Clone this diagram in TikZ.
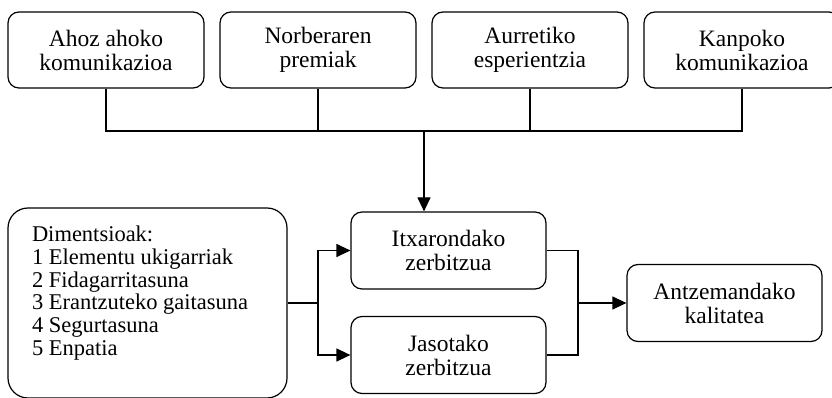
\documentclass[tikz,border=0pt]{standalone}
\usepackage{fontspec}
\setmainfont{Liberation Serif}
\usetikzlibrary{arrows.meta,positioning}

\begin{document}
\begin{tikzpicture}[
            x = 1pt, y = -1pt, % pixel grid, y going down
            > = {Triangle[length=14pt,width=13pt]}, % arrow head style
            node distance = 212pt, % distance between top boxes
            line width = 1.2pt, % line style
            box/.style = {draw, rounded corners=11pt, minimum width=196pt,
                minimum height=76pt, align=center, inner sep=2pt,
                font=\fontsize{23.5}{24}\selectfont},
            dimbox/.style = {draw, rounded corners=20pt, minimum width=279pt,
                minimum height=190pt, inner sep=0pt,
                font=\fontsize{22.5}{22.7}\selectfont}
        ]

	\useasboundingbox (0,0) rectangle (832,398);

	\node[box] (A) at (106,50) {Ahoz ahoko\\komunikazioa};
	\node[box] (B) [right of=A] {Norberaren\\premiak};
	\node[box] (C) [right of=B] {Aurretiko\\esperientzia};
	\node[box] (D) [right of=C] {Kanpoko\\komunikazioa};

	\node[box, minimum width=195pt, minimum height=77pt] (itx) at (448.5,250.5) {Itxarondako\\zerbitzua};
	\node[box, minimum width=195pt, minimum height=77pt] (jas) at (448.5,355) {Jasotako\\zerbitzua};
	\node[box, minimum width=195pt, minimum height=77pt] (ant) at (724.5,303) {Antzemandako\\kalitatea};
	\node[dimbox] (dim) at (147.5,303) {\parbox[c][190pt][t]{231pt}{\vspace*{18pt}%
		Dimentsioak:\\
		1 Elementu ukigarriak\\
		2 Fidagarritasuna\\
		3 Erantzuteko gaitasuna\\
		4 Segurtasuna\\
		5 Enpatia}};

	\coordinate (bus) at (424,131);
	\coordinate (split) at (318,303);
	\coordinate (merge) at (578,303);

	\draw (A.south) |- (bus) -| (D.south);
	\draw (B.south) -- (B.south |- bus);
	\draw (C.south) -- (C.south |- bus);
	\draw[->] (bus) -- (bus |- itx.north);

	\draw (dim.east) -- (split);
	\draw[->] (split) |- (itx.west);
	\draw[->] (split) |- (jas.west);
	\draw (itx.east) -| (merge);
	\draw (jas.east) -| (merge);
	\draw[->] (merge) -- (ant.west);
\end{tikzpicture}
\end{document}
